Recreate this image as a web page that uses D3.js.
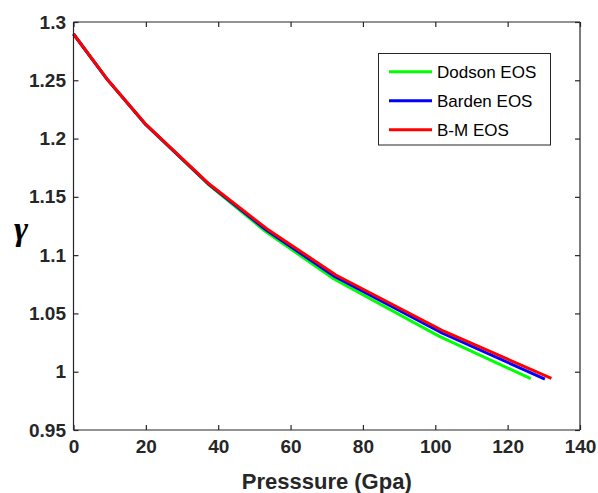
<!DOCTYPE html>
<html><head><meta charset="utf-8">
<script src="https://cdn.jsdelivr.net/npm/d3@7"></script>
<style>body{margin:0;background:#fff}svg{display:block}</style>
</head><body><div id="chart"></div>
<script>
const xTicks = [0,20,40,60,80,100,120,140];
const yTicks = [0.95,1,1.05,1.1,1.15,1.2,1.25,1.3];
const seriesNames = ["Dodson EOS","Barden EOS","B-M EOS"];
const seriesColors = ["#00ff00","#0000ff","#ff0000"];
const dodsonP = [0,9.2,20,37.5,53,72,101,126.4];
const dodsonG = [1.2897,1.2512,1.2119,1.1600,1.1205,1.0795,1.0305,0.9940];
const bardenP = [0,9.2,20,37.5,53.3,72.3,102,130.3];
const bardenG = [1.2897,1.2512,1.2119,1.1605,1.1215,1.0815,1.0330,0.9937];
const bmP = [0,9.2,20,37.5,53.5,72.5,102.5,132.1];
const bmG = [1.2897,1.2514,1.2121,1.1610,1.1225,1.0830,1.0345,0.9943];

const W=598,H=493, m={l:73.5,r:18,t:22,b:63};
const svg=d3.select("#chart").append("svg").attr("width",W).attr("height",H);
const x=d3.scaleLinear().domain([0,140]).range([m.l,W-m.r]);
const y=d3.scaleLinear().domain([0.95,1.3]).range([H-m.b,m.t]);
const font="'Liberation Sans', Arial, sans-serif";
const axCol="#262626";

const series=[[dodsonP,dodsonG],[bardenP,bardenG],[bmP,bmG]];
const line=d3.line().x(d=>x(d[0])).y(d=>y(d[1]));
series.forEach((s,i)=>{
  const pts=s[0].map((p,j)=>[p,s[1][j]]);
  svg.append("path").datum(pts).attr("d",line).attr("fill","none")
    .attr("stroke",seriesColors[i]).attr("stroke-width",3).attr("stroke-linejoin","round");
});

// axes
const gx=svg.append("g").attr("transform",`translate(0,${y(0.95)})`)
  .call(d3.axisBottom(x).tickValues(xTicks).tickSize(-5).tickPadding(10).tickFormat(d3.format("d")));
const gy=svg.append("g").attr("transform",`translate(${x(0)},0)`)
  .call(d3.axisLeft(y).tickValues(yTicks).tickSize(-5).tickPadding(7.5).tickFormat(d=>String(+d.toFixed(2))));
const gxt=svg.append("g").attr("transform",`translate(0,${y(1.3)})`)
  .call(d3.axisTop(x).tickValues(xTicks).tickSize(-5).tickFormat(""));
const gyr=svg.append("g").attr("transform",`translate(${x(140)},0)`)
  .call(d3.axisRight(y).tickValues(yTicks).tickSize(-5).tickFormat(""));
[gx,gy,gxt,gyr].forEach(g=>{
  g.selectAll(".domain").attr("stroke",axCol).attr("stroke-width",1.2);
  g.selectAll(".tick line").attr("stroke",axCol).attr("stroke-width",1.2);
  g.selectAll("text").attr("fill",axCol).style("font-family",font).style("font-size","19px").style("font-weight","bold");
});
gy.selectAll(".domain").attr("d",`M0,${y(0.95)}V${y(1.3)}`);
gyr.selectAll(".domain").attr("d",`M0,${y(0.95)}V${y(1.3)}`);
gx.selectAll(".domain").attr("d",`M${x(0)},0H${x(140)}`);
gxt.selectAll(".domain").attr("d",`M${x(0)},0H${x(140)}`);

svg.append("text").attr("x",(x(0)+x(140))/2).attr("y",489).attr("text-anchor","middle")
  .attr("fill",axCol).style("font-family",font).style("font-size","22px").style("font-weight","bold")
  .text("Presssure (Gpa)");
svg.append("text").attr("x",21).attr("y",240).attr("text-anchor","middle")
  .attr("fill","#000").style("font-family","'Liberation Serif', 'DejaVu Serif', serif").style("font-size","34px")
  .style("font-style","italic").style("font-weight","bold")
  .text("γ");

// legend
const lg=svg.append("g");
lg.append("rect").attr("x",378.5).attr("y",53.5).attr("width",172).attr("height",91.5)
  .attr("fill","#fff").attr("stroke",axCol).attr("stroke-width",1);
seriesNames.forEach((n,i)=>{
  const yy=71.7+i*29;
  lg.append("line").attr("x1",389).attr("x2",432).attr("y1",yy).attr("y2",yy)
    .attr("stroke",seriesColors[i]).attr("stroke-width",3);
  lg.append("text").attr("x",437).attr("y",yy+6).attr("fill","#000")
    .style("font-family",font).style("font-size","17px").text(n);
});
</script></body></html>
